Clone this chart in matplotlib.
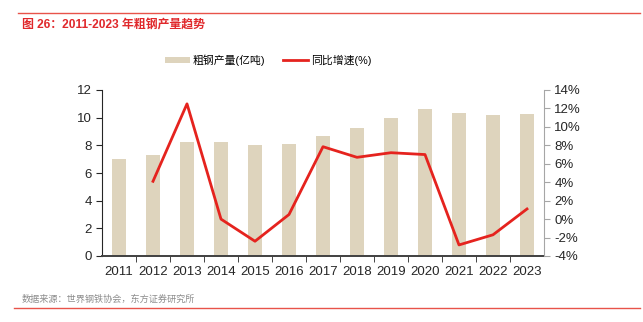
import matplotlib
matplotlib.use('Agg')
import matplotlib.pyplot as plt
from matplotlib.lines import Line2D
from matplotlib.patches import Patch
from matplotlib.ticker import FuncFormatter

plt.rcParams['font.family'] = ['Liberation Sans', 'Noto Sans CJK SC', 'DejaVu Sans']

# ─── 데이터 ───────────────────────────────
years = ['2011', '2012', '2013', '2014', '2015', '2016', '2017',
         '2018', '2019', '2020', '2021', '2022', '2023']
output = [7.02, 7.31, 8.22, 8.23, 8.04, 8.08, 8.71,
          9.28, 9.96, 10.65, 10.35, 10.18, 10.28]
yoy_years = years[1:]
yoy = [4.1, 12.5, 0.0, -2.4, 0.5, 7.85, 6.7, 7.2, 7.0, -2.8, -1.7, 1.1]

bar_color = '#DED4BD'
red = '#E5231E'
dark = '#262626'

fig = plt.figure(figsize=(6.43, 3.22), dpi=100)

# 상단/하단 빨간 선 + 제목/출처
fig.add_artist(Line2D([18/643, 640/643], [1 - 13/322, 1 - 13/322], color='#E8534A', lw=1.0))
fig.add_artist(Line2D([14/643, 640/643], [1 - 308/322, 1 - 308/322], color='#E8534A', lw=1.0))
fig.text(22/643, 1 - 25/322, '图 26：2011-2023 年粗钢产量趋势', color='#E0282B',
         fontsize=8.6, fontweight='bold', va='center', ha='left')
fig.text(22/643, 1 - 299/322, '数据来源：世界钢铁协会，东方证券研究所', color='#8C8C8C',
         fontsize=6.6, va='center', ha='left')

ax = fig.add_axes([102/643, 1 - 256/322, 442/643, 166/322])
x = list(range(len(years)))
ax.bar(x, output, width=0.4, color=bar_color, zorder=1)
ax.set_xlim(-0.5, len(years) - 0.5)
ax.set_ylim(0, 12)
ax.set_yticks(range(0, 13, 2))
ax.set_xticks(x)
ax.set_xticklabels(years)
ax.set_xticks([i + 0.5 for i in x[:-1]], minor=True)
ax.tick_params(axis='x', which='major', length=0, pad=7, labelsize=9.5, colors=dark)
ax.tick_params(axis='x', which='minor', length=4, color=dark, direction='out')
ax.tick_params(axis='y', length=4, color=dark, labelsize=9.5, labelcolor=dark)
for s in ['top', 'right']:
    ax.spines[s].set_visible(False)
ax.spines['left'].set_color(dark)
ax.spines['bottom'].set_color('#404040')
ax.spines['bottom'].set_linewidth(1.4)

ax2 = ax.twinx()
ax2.plot(x[1:], yoy, color=red, lw=2.0, zorder=3)
ax2.set_ylim(-4, 14)
ax2.set_yticks(range(-4, 15, 2))
ax2.yaxis.set_major_formatter(FuncFormatter(lambda v, _: f'{v:.0f}%'))
ax2.tick_params(axis='y', length=4, color='#A6A6A6', labelsize=9.5, labelcolor=dark)
for s in ['top', 'left', 'bottom']:
    ax2.spines[s].set_visible(False)
ax2.spines['right'].set_color('#A6A6A6')

handles = [Patch(facecolor=bar_color, edgecolor='none'),
           Line2D([], [], color=red, lw=2.0)]
fig.legend(handles, ['粗钢产量(亿吨)', '同比增速(%)'], loc='center',
           bbox_to_anchor=(268/643, 1 - 60/322), ncol=2, frameon=False, fontsize=7.8,
           handlelength=2.3, handleheight=0.6, columnspacing=1.6, handletextpad=0.3)

fig.savefig('out.png', dpi=100)
